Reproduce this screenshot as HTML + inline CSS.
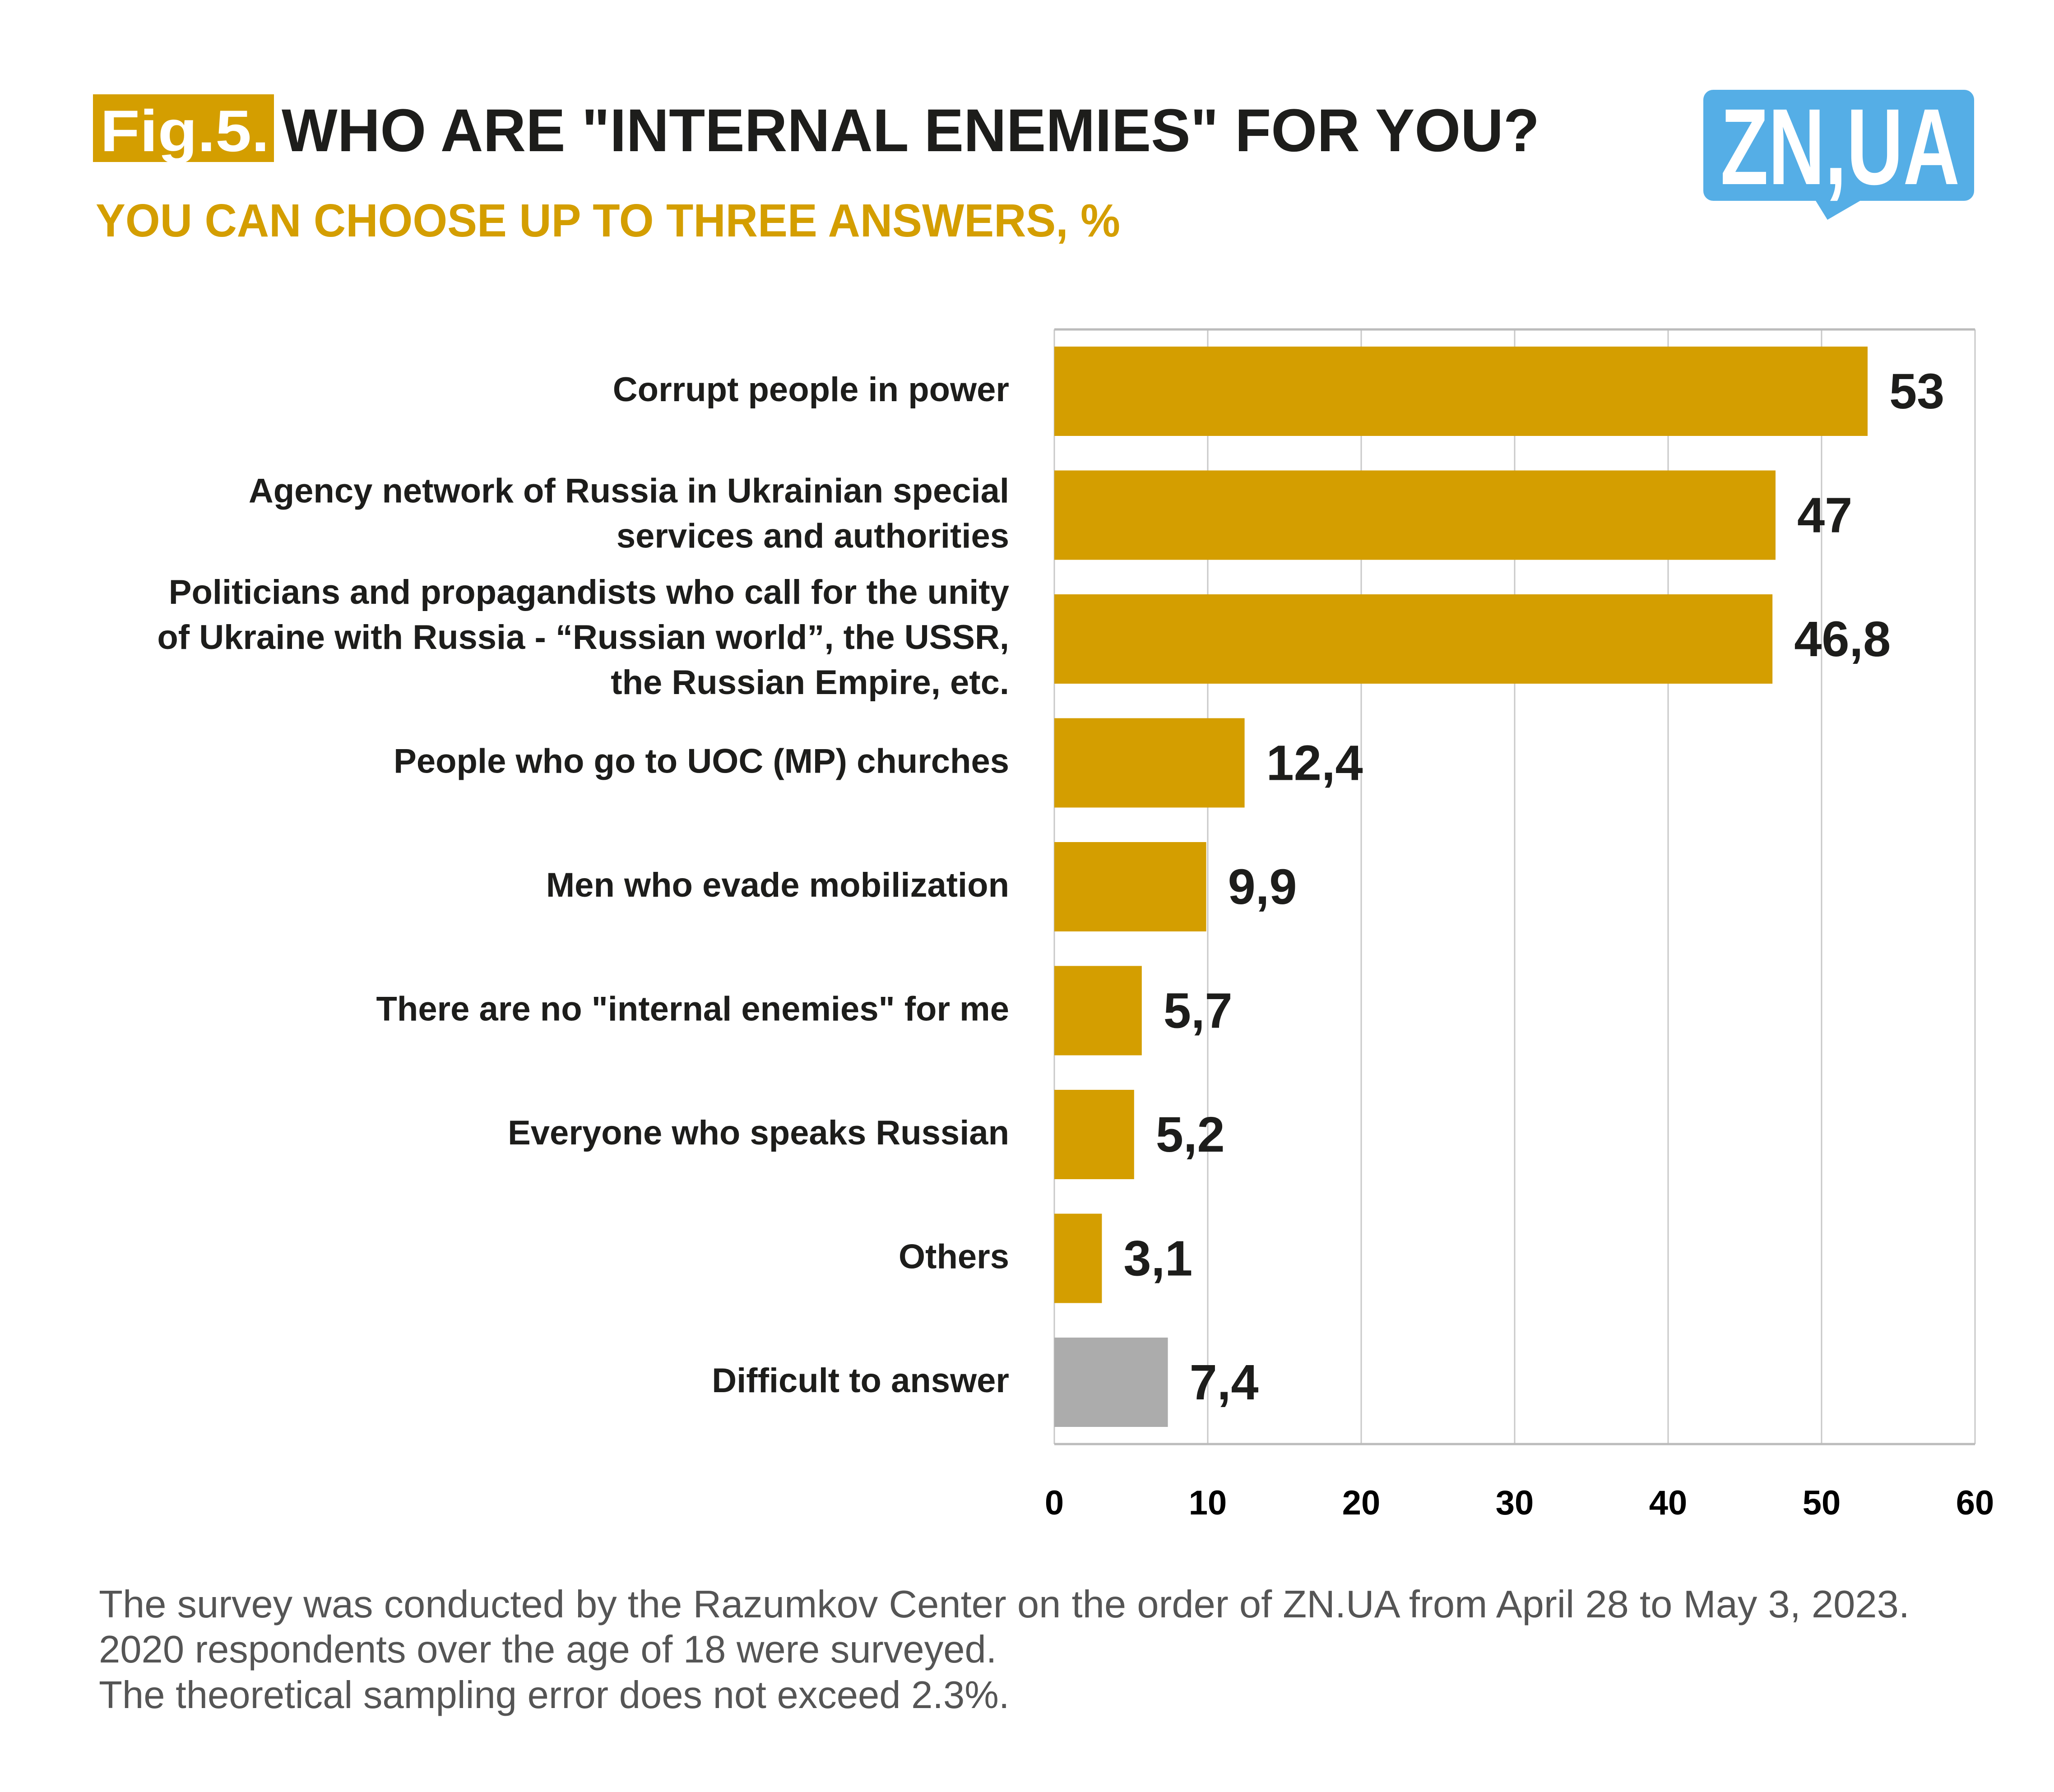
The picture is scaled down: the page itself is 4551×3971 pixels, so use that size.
<!DOCTYPE html>
<html><head><meta charset="utf-8"><style>
html,body{margin:0;padding:0;background:#fff;}
svg{display:block;}
text{font-family:"Liberation Sans",sans-serif;}
</style></head><body>
<svg id="chart" width="4551" height="3971" viewBox="0 0 4551 3971" xmlns="http://www.w3.org/2000/svg">
<rect x="0" y="0" width="4551" height="3971" fill="#fff"/>
<g>
<rect x="206" y="209" width="401" height="150" fill="#d49e00"/>
<text x="222" y="335" font-size="130" font-weight="bold" fill="#fff" textLength="375" lengthAdjust="spacingAndGlyphs">Fig.5.</text>
<text x="624" y="335" font-size="134" font-weight="bold" fill="#1d1d1b" textLength="2787" lengthAdjust="spacingAndGlyphs">WHO ARE "INTERNAL ENEMIES" FOR YOU?</text>
<text x="212" y="524" font-size="103" font-weight="bold" fill="#d49e00" textLength="2270" lengthAdjust="spacingAndGlyphs">YOU CAN CHOOSE UP TO THREE ANSWERS, %</text>
</g>
<g>
<rect x="3774" y="199" width="600" height="246" rx="22" fill="#55aee6"/>
<path d="M4020 440 L4049 487 L4130 440 Z" fill="#55aee6"/>
<text x="3812" y="408" font-size="240" font-weight="bold" fill="#fff" textLength="530" lengthAdjust="spacingAndGlyphs">ZN,UA</text>
</g>
<g id="grid"></g>
<g id="bars"></g>
<g id="labels"></g>
<g id="ticks"></g>
<g font-size="85" fill="#555555">
<text x="219" y="3584" textLength="4012" lengthAdjust="spacingAndGlyphs">The survey was conducted by the Razumkov Center on the order of ZN.UA from April 28 to May 3, 2023.</text>
<text x="219" y="3684">2020 respondents over the age of 18 were surveyed.</text>
<text x="219" y="3785">The theoretical sampling error does not exceed 2.3%.</text>
</g>
</svg>
<script>
const categories = [
 ["Corrupt people in power"],
 ["Agency network of Russia in Ukrainian special","services and authorities"],
 ["Politicians and propagandists who call for the unity","of Ukraine with Russia - \u201cRussian world\u201d, the USSR,","the Russian Empire, etc."],
 ["People who go to UOC (MP) churches"],
 ["Men who evade mobilization"],
 ["There are no \"internal enemies\" for me"],
 ["Everyone who speaks Russian"],
 ["Others"],
 ["Difficult to answer"]
];
const values = [53, 47, 46.8, 12.4, 9.9, 5.7, 5.2, 3.1, 7.4];
const valueLabels = ["53","47","46,8","12,4","9,9","5,7","5,2","3,1","7,4"];
const tickValues = [0,10,20,30,40,50,60];

const NS = "http://www.w3.org/2000/svg";
const X0 = 2336, X1 = 4376, Y0 = 730, Y1 = 3200, XMAX = 60;
const BAR_TOP0 = 768, PITCH = 274.5, BAR_H = 198;
const xs = v => X0 + (X1 - X0) * v / XMAX;
const yBand = i => BAR_TOP0 + i * PITCH;
function mk(tag, attrs, parent){ const e=document.createElementNS(NS,tag); for(const k in attrs) e.setAttribute(k,attrs[k]); parent.appendChild(e); return e; }

const grid = document.getElementById('grid');
tickValues.forEach((t,i)=>{
  const l = mk('line',{x1:xs(t),x2:xs(t),y1:Y0,y2:Y1,stroke:'#c8c8c8','stroke-width':3},grid);
  
  
});
const topL = mk('line',{x1:X0,x2:X1,y1:Y0,y2:Y0,stroke:'#bbbbbb','stroke-width':5},grid);


const botL = mk('line',{x1:X0,x2:X1,y1:Y1,y2:Y1,stroke:'#bbbbbb','stroke-width':5},grid);



const bars = document.getElementById('bars');
const labels = document.getElementById('labels');
values.forEach((v,i)=>{
  const top = yBand(i);
  const r = mk('rect',{x:xs(0),y:top,width:xs(v)-xs(0),height:BAR_H,fill: i===values.length-1?'#acacac':'#d49e00'},bars);
  
  
  const t = mk('text',{x:xs(v)+48,y:top+BAR_H/2+38,'font-size':110,'font-weight':'bold',fill:'#1d1d1b'},bars);
  t.textContent = valueLabels[i];
  
  
  const lines = categories[i];
  const mid = top + BAR_H/2;
  const base0 = mid + 22 - (lines.length-1)*50;
  lines.forEach((ln,j)=>{
    const c = mk('text',{x:2236,y:base0+j*100,'font-size':76,'font-weight':'bold','text-anchor':'end',fill:'#1d1d1b'},labels);
    c.textContent = ln;
    
    
  });
});

const ticks = document.getElementById('ticks');
tickValues.forEach(t=>{
  const e = mk('text',{x:xs(t),y:3356,'font-size':76,'font-weight':'bold','text-anchor':'middle',fill:'#000'},ticks);
  e.textContent = String(t);
  
  
});
</script>
</body></html>
